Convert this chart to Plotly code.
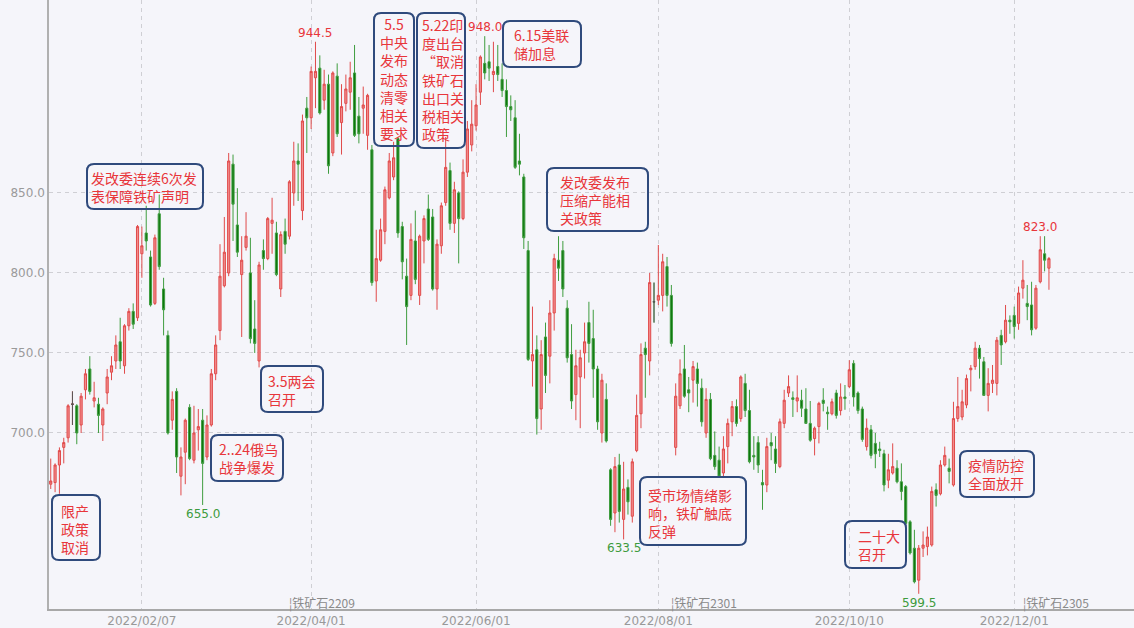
import pandas as pd
import plotly.graph_objects as go

# ---------------- data ----------------
holidays = ["2022-01-03", "2022-01-31", "2022-02-01", "2022-02-02", "2022-02-03", "2022-02-04",
            "2022-04-04", "2022-04-05", "2022-05-02", "2022-05-03", "2022-05-04", "2022-06-03",
            "2022-09-12", "2022-10-03", "2022-10-04", "2022-10-05", "2022-10-06", "2022-10-07"]

opens = [668, 669, 680, 691, 697, 718, 717, 705, 727, 740, 720, 718, 705, 725, 738, 745, 757, 742, 767, 776,
         772, 812, 825, 810, 781, 837, 790, 761, 708, 726, 673, 688, 716, 683, 702, 708, 685, 705, 737, 764,
         792, 800, 868, 830, 799, 816, 800, 765, 745, 814, 809, 831, 825, 790, 826, 823, 850, 870, 839, 903,
         897, 922, 928, 908, 918, 875, 923, 894, 906, 913, 925, 898, 903, 886, 877, 795, 808, 826, 847, 860,
         884, 829, 798, 786, 820, 786, 820, 840, 835, 790, 817, 844, 864, 831, 850, 834, 863, 880, 892, 913,
         931, 932, 924, 929, 921, 914, 904, 897, 870, 860, 814, 745, 752, 715, 760, 748, 775, 808, 814, 778,
         749, 724, 735, 750, 769, 759, 740, 700, 721, 677, 650, 680, 646, 666, 648, 689, 712, 753, 745, 782,
         783, 786, 804, 786, 691, 717, 740, 727, 733, 740, 728, 700, 721, 686, 683, 675, 691.5, 707, 716.5, 709,
         731, 714, 686, 694, 669, 667.5, 694, 690, 679, 706, 725, 722, 720, 720.5, 715, 706, 696.5, 704, 720.5, 713,
         712, 725, 714, 722.5, 729, 743.5, 725, 715, 691.5, 702, 693.5, 690, 687, 670.5, 675, 678, 669.5, 666.5, 644.5, 628,
         608, 628, 629, 630, 664.5, 662, 680, 678, 667.5, 709, 710, 717.5, 739.5, 741.5, 753, 744.5, 723.5, 731, 731, 761,
         757, 770.5, 773.5, 768.5, 790.5, 781, 780, 765.5, 794.5, 812, 803]
highs = [684, 681, 691, 697, 718, 726, 718, 725, 740, 748, 732, 722, 716, 740, 748, 761, 772, 768, 778, 781,
         830, 829, 842, 814, 824, 849, 797, 764, 726, 728, 691, 709, 718, 717, 715, 715, 711, 740, 761, 818,
         835, 875, 874, 853, 823, 838, 822, 783, 807, 821, 835, 847, 832, 826, 834, 858, 882, 881, 899, 910,
         929, 944.5, 936, 927, 924, 926, 931, 918, 924, 932, 942.5, 910, 916.5, 912, 880, 827, 834, 854, 875, 882,
         885, 832, 809, 831, 839, 824, 836, 849, 840, 821, 844, 885, 869, 857, 851, 871, 895, 908, 918, 936,
         948, 942.5, 944.5, 942.5, 931, 921, 911, 908, 887, 862, 820, 779, 761, 758, 769, 783, 812, 823, 820, 783,
         768, 752, 752, 769, 782, 777, 742, 737, 731, 678, 685, 687, 682, 671, 684, 724, 756, 757, 800, 794,
         817.5, 812, 810, 792.5, 731, 746, 755, 735, 745, 744, 734, 728, 725, 701, 691.5, 698, 709, 720, 721, 736,
         737, 727, 698, 698, 677, 697, 700, 698, 709, 727, 736, 726, 736, 727, 728, 720, 704, 719.5, 728, 716.5,
         721.5, 727, 731, 730, 745.5, 745.5, 726, 716.5, 709, 705, 700, 694.5, 689.5, 687, 693.5, 683, 681, 667.5, 645.5, 639.5,
         630, 638.5, 641.5, 666.5, 668.5, 683, 691.5, 684, 719.5, 735, 727, 736.5, 742.5, 757, 755, 747.5, 740.5, 742.5, 760, 764.5,
         780, 773.5, 779, 791.5, 808, 792.5, 794.5, 792.5, 823, 823, 810]
lows = [665, 663, 662, 681, 694, 705, 693, 700, 721, 724, 716, 700, 695, 718, 733, 740, 740, 737, 764, 765,
        770, 797, 814, 779, 780, 802, 761, 699, 702, 675, 661, 668, 683, 681, 689, 655, 683, 704, 733, 758,
        791, 798, 820, 810, 760, 814, 756, 750, 741, 802, 808, 812, 798, 785, 812, 821, 842, 845, 833, 875,
        890, 903, 899, 902, 862, 873, 885, 874, 901, 902, 885, 881, 887, 877, 792, 782, 807, 818, 846, 858,
        822, 796, 755, 783, 793, 780, 806, 820, 789, 777, 812, 842, 827, 825, 806, 833, 860, 876, 889, 905,
        921, 920, 913, 920, 910, 885, 895, 865, 861, 815, 745, 729, 699, 702, 725, 731, 764, 795, 785, 744,
        715, 708, 703, 734, 744, 722, 702, 694, 694, 642, 638, 644, 633.5, 649, 644, 688, 703, 722, 736, 769,
        780, 776, 779, 754, 686, 715, 722, 713, 719, 716.5, 704, 697, 683, 677, 672, 673, 681, 698, 704, 707,
        710, 681, 677, 675, 652, 663, 683, 675, 678, 703, 722.5, 710, 713, 710, 706, 694.5, 686, 693.5, 713.5, 702,
        711, 709, 711, 714.5, 728, 716.5, 712, 694.5, 689, 684, 678, 685, 663.5, 665.5, 674, 668.5, 658, 642.5, 624, 606,
        599.5, 622.5, 623.5, 629, 654, 661, 679, 668.5, 666.5, 707, 708, 715.5, 726, 739.5, 734, 723.5, 713.5, 725, 723.5, 742.5,
        756, 762, 759, 764.5, 784, 770.5, 761, 764.5, 793.5, 801, 789.5]
closes = [670, 680, 689, 694, 717, 718, 700, 723, 737, 726, 722, 711, 715, 735, 742, 755, 745, 767, 776, 768,
          829, 817, 820, 780, 822, 804, 777, 700, 721, 685, 685, 708, 684, 700, 704, 681, 705, 737, 755, 798,
          813, 870, 843, 813, 808, 823, 759, 756, 805, 809, 834, 833, 799, 824, 818, 857, 870, 868, 895, 897,
          926, 926, 900, 918, 867, 925, 887, 904, 915, 922, 886, 887, 905, 911, 794, 809, 827, 852, 870, 872,
          825, 807, 779, 821, 796, 823, 834, 821, 790, 818, 842, 866, 831, 852, 834, 863, 890, 893, 905, 935,
          925, 928, 926, 924, 914, 904, 902, 866, 868, 822, 746, 749, 709, 749, 736, 775, 809, 803, 790, 747,
          720, 742, 747, 757, 756, 740, 707, 733, 695, 646, 679, 651, 665, 657, 682, 711, 749, 749, 794, 782,
          786, 807, 786, 756, 723, 737, 723, 725, 741.5, 731, 707, 721, 684, 679, 673, 690, 706, 716.5, 706, 735,
          714, 682, 685, 680, 667.5, 691.5, 692, 681, 707, 720.5, 729, 721, 722, 715.5, 706, 695.5, 703, 718.5, 718.5, 712,
          719.5, 711, 722.5, 721.5, 739.5, 722.5, 714, 696, 703, 686, 687, 689, 667.5, 677, 679, 669.5, 663.5, 643.5, 625, 607,
          628, 630, 635, 663.5, 661, 680, 686, 676, 709, 716.5, 719.5, 734, 740.5, 753, 746.5, 723.5, 731, 733, 758, 755,
          770.5, 769.5, 766.5, 787.5, 795.5, 779, 764.5, 790.5, 814.5, 808, 809]

tick_dates = ["2022-02-07", "2022-04-01", "2022-06-01", "2022-08-01", "2022-10-10", "2022-12-01"]
tick_labels = ["2022/02/07", "2022/04/01", "2022/06/01", "2022/08/01", "2022/10/10", "2022/12/01"]
y_ticks = [700, 750, 800, 850]
y_tick_labels = ["700.0", "750.0", "800.0", "850.0"]

doji_idx = [5, 139]
high_label_idx = [61, 100, 228]
low_label_idx = [35, 132, 200]

contracts = ["¦铁矿石2209", "¦铁矿石2301", "¦铁矿石2305"]
contract_idx = [55, 143, 224]

notes = [
    "限产<br>政策<br>取消",
    "发改委连续6次发<br>表保障铁矿声明",
    "2..24俄乌<br>战争爆发",
    "3.5两会<br>召开",
    "5.5<br>中央<br>发布<br>动态<br>清零<br>相关<br>要求",
    "5.22印<br>度出台<br>“取消<br>铁矿石<br>出口关<br>税相关<br>政策",
    "6.15美联<br>储加息",
    "发改委发布<br>压缩产能相<br>关政策",
    "受市场情绪影<br>响，铁矿触底<br>反弹",
    "二十大<br>召开",
    "疫情防控<br>全面放开",
]
# box (x0, y0, x1, y1) in pixels, text anchor x, text center y, alignment
note_boxes = [
    (52, 495, 100, 560), (87, 164, 203, 209), (211, 435, 283, 481), (261, 366, 323, 412),
    (374, 13, 414, 146), (417, 13, 465, 148), (503, 21, 581, 67), (547, 168, 648, 231),
    (640, 477, 746, 545), (845, 521, 906, 568), (960, 451, 1034, 497),
]
note_text_pos = [
    (59, 529, "left"), (89, 187, "left"), (217, 458, "left"), (266, 390, "left"),
    (394, 79, "center"), (420, 80, "left"), (512, 44, "left"), (558, 200, "left"),
    (646, 513, "left"), (856, 545, "left"), (966, 474, "left"),
]

# ---------------- figure ----------------
bdays = pd.bdate_range("2021-12-30", "2022-12-31")
bdays = [d for d in bdays if d.strftime("%Y-%m-%d") not in holidays]
dates = [d.strftime("%Y-%m-%d") for d in bdays][:len(opens)]

RED_LINE = "#e04a4a"
RED_FILL = "#f28c8c"
GREEN_LINE = "#3f9d3f"
GREEN_FILL = "#0e760e"
TEXT_RED = "#e8363b"
BG = "#f5f5fa"

fig = go.Figure()
fig.add_trace(go.Candlestick(
    x=dates, open=opens, high=highs, low=lows, close=closes,
    increasing=dict(line=dict(color=RED_LINE, width=1), fillcolor=RED_FILL),
    decreasing=dict(line=dict(color=GREEN_LINE, width=1), fillcolor=GREEN_FILL),
    whiskerwidth=0, showlegend=False, hoverinfo="skip",
))
fig.add_trace(go.Candlestick(
    x=[dates[i] for i in doji_idx], open=[opens[i] for i in doji_idx],
    high=[highs[i] for i in doji_idx], low=[lows[i] for i in doji_idx],
    close=[closes[i] for i in doji_idx],
    increasing=dict(line=dict(color="#555555", width=1), fillcolor="#555555"),
    decreasing=dict(line=dict(color="#555555", width=1), fillcolor="#555555"),
    whiskerwidth=0, showlegend=False, hoverinfo="skip",
))

annotations = []
for i in high_label_idx:
    annotations.append(dict(x=dates[i], y=highs[i], text=f"{highs[i]:.1f}", showarrow=False,
                            yanchor="bottom", yshift=0, font=dict(family="DejaVu Sans", size=12, color=TEXT_RED)))
for i in low_label_idx:
    annotations.append(dict(x=dates[i], y=lows[i], text=f"{lows[i]:.1f}", showarrow=False,
                            yanchor="top", yshift=0, font=dict(family="DejaVu Sans", size=12, color="#3d9b3d")))
for txt, i in zip(contracts, contract_idx):
    annotations.append(dict(x=dates[i], y=594, text=txt, showarrow=False, xanchor="left", yanchor="middle",
                            xshift=-2, font=dict(family="Noto Sans CJK SC", size=12, color="#8a8a8a")))

L, R, T, B = 49, 1134, 0, 609
PW, PH = R - L, B - T


def px(x):
    return (x - L) / PW


def py(y):
    return (B - y) / PH


shapes = []
for (x0, y0, x1, y1) in note_boxes:
    r = 7
    path = (f"M {px(x0 + r)},{py(y0)} L {px(x1 - r)},{py(y0)} Q {px(x1)},{py(y0)} {px(x1)},{py(y0 + r)} "
            f"L {px(x1)},{py(y1 - r)} Q {px(x1)},{py(y1)} {px(x1 - r)},{py(y1)} "
            f"L {px(x0 + r)},{py(y1)} Q {px(x0)},{py(y1)} {px(x0)},{py(y1 - r)} "
            f"L {px(x0)},{py(y0 + r)} Q {px(x0)},{py(y0)} {px(x0 + r)},{py(y0)} Z")
    shapes.append(dict(type="path", path=path, xref="paper", yref="paper",
                       line=dict(color="#2f4a7c", width=2), fillcolor="rgba(0,0,0,0)", layer="above"))

for txt, (tx, ty, al) in zip(notes, note_text_pos):
    annotations.append(dict(x=px(tx), y=py(ty), xref="paper", yref="paper", text=txt, showarrow=False,
                            xanchor=al, yanchor="middle", align=al,
                            font=dict(family="Noto Sans CJK SC", size=14, color=TEXT_RED)))

fig.update_layout(
    width=1134, height=628,
    margin=dict(l=L, r=1134 - R, t=T, b=628 - B),
    paper_bgcolor=BG, plot_bgcolor=BG,
    showlegend=False,
    annotations=annotations,
    shapes=shapes,
    xaxis=dict(
        type="category", range=[-0.4, 249.6], rangeslider=dict(visible=False),
        tickmode="array", tickvals=tick_dates, ticktext=tick_labels,
        showgrid=True, gridcolor="#cfcfd4", griddash="4px,4px", gridwidth=1,
        showline=True, linecolor="#a8a8a8", linewidth=2, ticks="",
        tickfont=dict(family="DejaVu Sans", size=12, color="#999999"),
        zeroline=False, fixedrange=True,
    ),
    yaxis=dict(
        range=[590, 970.6], tickmode="array", tickvals=y_ticks, ticktext=y_tick_labels,
        showgrid=True, gridcolor="#cfcfd4", griddash="4px,4px", gridwidth=1,
        showline=True, linecolor="#b0b0b0", linewidth=1.5, ticks="",
        tickfont=dict(family="DejaVu Sans", size=12, color="#9a9a9a"),
        zeroline=False, fixedrange=True,
    ),
)

fig.write_html(
    "out.html",
    config={"displayModeBar": False},
    post_script="document.body.style.margin='0';document.body.style.padding='0';"
                "document.body.style.background='" + BG + "';",
)
